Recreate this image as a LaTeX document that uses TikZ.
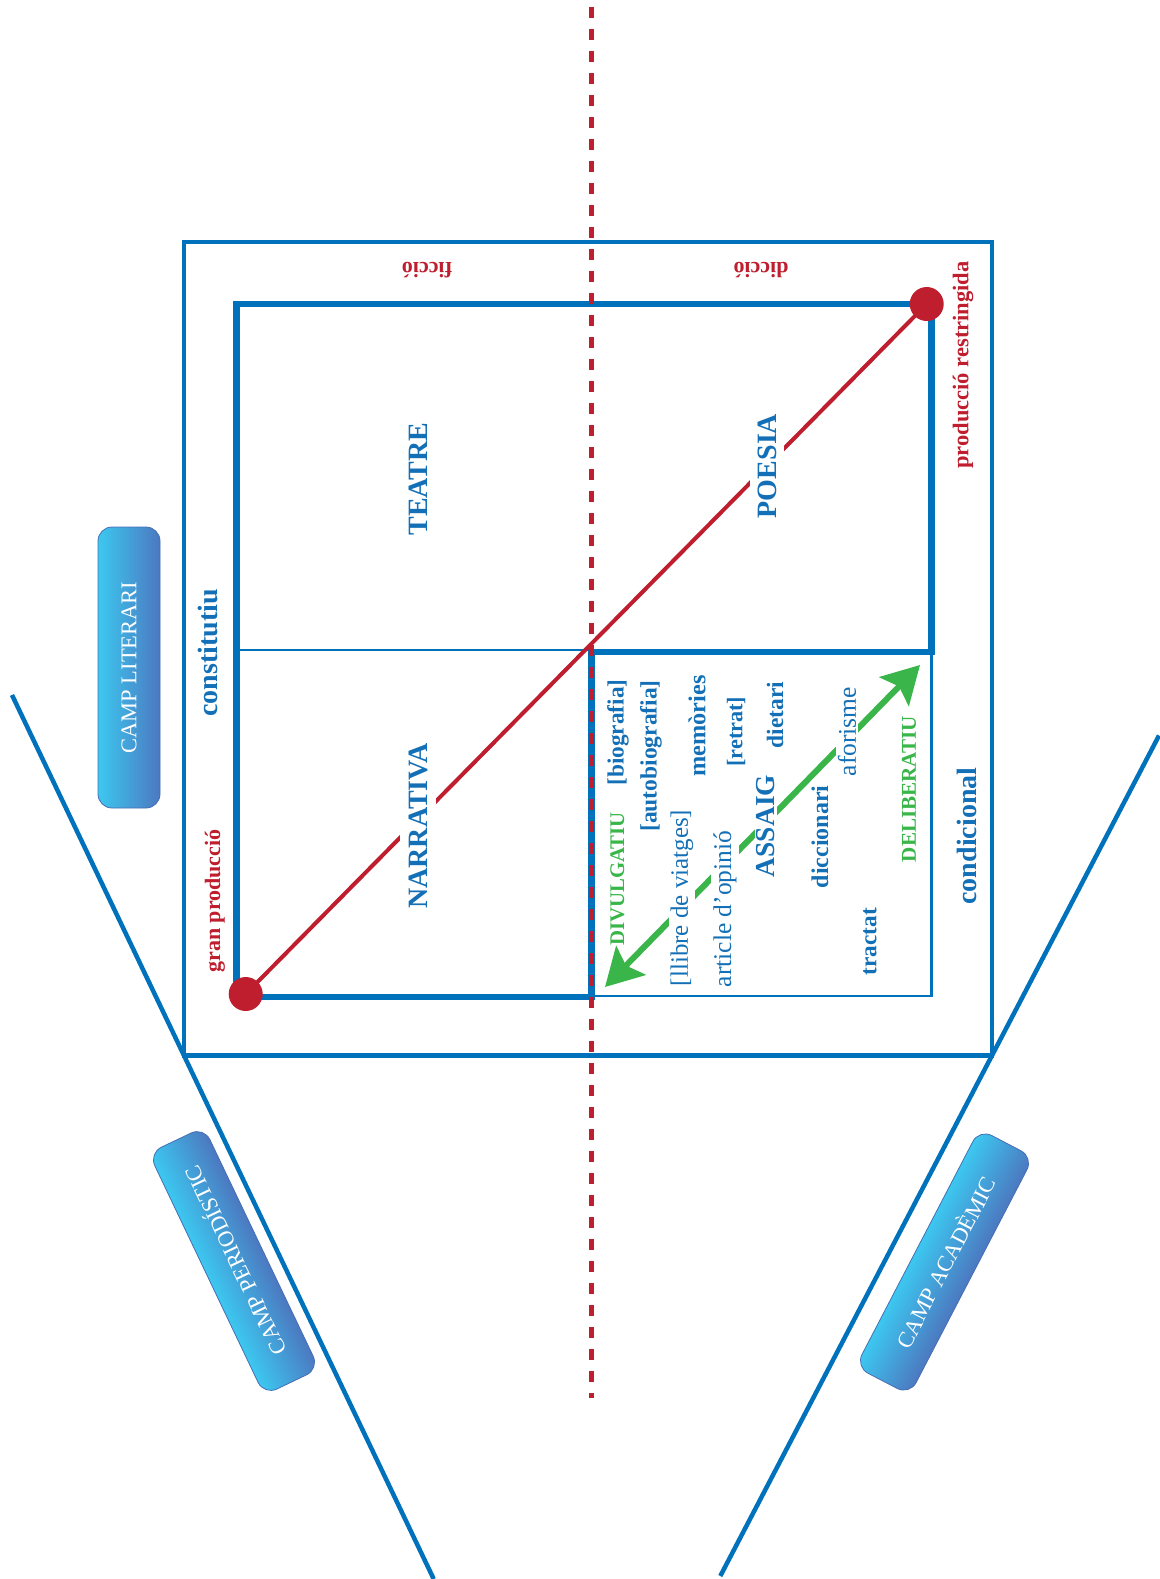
\documentclass[tikz,border=0pt]{standalone}
\usepackage{fontspec}
\setmainfont{Liberation Serif}
\usetikzlibrary{arrows.meta}
\definecolor{cblue}{RGB}{0,114,188}
\definecolor{tblue}{RGB}{20,112,182}
\definecolor{cred}{RGB}{190,30,45}
\definecolor{cgreen}{RGB}{57,181,74}
\definecolor{boxlight}{RGB}{60,200,240}
\definecolor{boxdark}{RGB}{76,120,192}
\definecolor{boxedge}{RGB}{70,110,180}
\newcommand\setfs[1]{\fontsize{#1}{#1}\selectfont}
\begin{document}
\begin{tikzpicture}[x=1pt,y=-1pt,
  thickblue/.style={draw=cblue, line width=6.5pt, line join=miter},
  thinblue/.style={draw=cblue, line width=2.5pt},
  outerblue/.style={draw=cblue, line width=4.5pt},
  redline/.style={draw=cred, line width=4pt},
  reddash/.style={draw=cred, line width=5pt, dash pattern=on 11pt off 11pt},
  garrow/.style={draw=cgreen, line width=6pt, {Stealth[length=37pt,width=41pt,inset=7pt]}-{Stealth[length=37pt,width=41pt,inset=7pt]}},
  reddot/.style={circle, fill=cred, minimum size=34pt, inner sep=0pt},
  btxt/.style={text=tblue, font=\bfseries\setfs{#1}, inner sep=0pt},
  rtxt/.style={text=tblue, font=\setfs{#1}, inner sep=0pt},
  redtxt/.style={text=cred, font=\bfseries\setfs{#1}, inner sep=0pt},
  gtxt/.style={text=cgreen, font=\bfseries\setfs{#1}, inner sep=0pt},
  campbox/.style={rounded corners=14pt, draw=boxedge, line width=0.8pt,
    top color=boxlight, bottom color=boxdark,
    text=white, font=\setfs{22.5},
    minimum width=268pt, minimum height=61pt, inner sep=0pt}
]
\useasboundingbox (0,0) rectangle (1159,1579);

% field lines
\coordinate (L1) at (12,695);
\coordinate (L2) at (433.7,1579);
\coordinate (R1) at (1159,735.5);
\coordinate (R2) at (720.3,1576);
\draw[outerblue] (L1) -- (L2);
\draw[outerblue] (R1) -- (R2);

% outer rectangle
\draw[outerblue] (184,242) rectangle (992,1055.5);

% thin lines
\draw[thinblue] (236.5,650) -- (591.5,650);
\draw[thinblue] (591.5,996) -- (931.5,996) -- (931.5,652);

% thick shape
\draw[thickblue] (236.5,304) -- (931.5,304) -- (931.5,652) -- (591.5,652) -- (591.5,997) -- (236.5,997) -- cycle;

% red diagonal
\coordinate (dA) at (245.7,994);
\coordinate (dB) at (926.7,304);
\draw[redline] (dA) -- (dB);

% green arrow
\coordinate (gA) at (605,987);
\coordinate (gB) at (920,665);
\draw[garrow] (gA) -- (gB);

% boxes
\begin{scope}[transform canvas={shift={(129,667.5)}, rotate=90}]
\node[campbox, minimum width=281pt, minimum height=62pt] (lit) at (0,0) {CAMP LITERARI};
\end{scope}
\begin{scope}[transform canvas={shift={(234,1261)}, rotate=115.5}]
\node[campbox] (per) at (0,0) {CAMP PERIODÍSTIC};
\end{scope}
\begin{scope}[transform canvas={shift={(944.5,1262)}, rotate=62.5}]
\node[campbox] (aca) at (0,0) {CAMP ACADÈMIC};
\end{scope}

% red labels
\node[redtxt=22, rotate=180] (fic) at (427,270) {ficció};
\node[redtxt=22, rotate=180] (dic) at (761,270) {dicció};
\node[redtxt=22.5, rotate=90] (pr) at (963,365) {producció restringida};
\node[redtxt=22, rotate=90] (gp) at (215,901) {gran producció};

% blue labels
\node[btxt=28, rotate=90] (cons) at (208,653) {constitutiu};
\node[btxt=28, rotate=90] (cond) at (967,836) {condicional};
\node[btxt=28, rotate=90] (tea) at (418,479) {TEATRE};
\node[btxt=28, rotate=90, fill=white, inner sep=8pt] (poe) at (767,466) {POESIA};
\node[btxt=28, rotate=90, fill=white, inner sep=9pt] (nar) at (418,826) {NARRATIVA};

% assaig region
\node[btxt=23.3, rotate=90] (bio) at (618,732.5) {[biografia]};
\node[btxt=23.5, rotate=90] (abio) at (651,756) {[autobiografia]};
\node[btxt=24.3, rotate=90] (mem) at (697,726) {memòries};
\node[btxt=22.3, rotate=90] (ret) at (736,731.7) {[retrat]};
\node[btxt=23.5, rotate=90] (die) at (775,715) {dietari};
\node[rtxt=25.5, rotate=90, fill=white, inner sep=2pt] (afo) at (847,731.7) {aforisme};
\node[rtxt=25, rotate=90, fill=white, inner sep=2pt] (lli) at (682,898) {[llibre de viatges]};
\node[rtxt=25.5, rotate=90, fill=white, inner sep=2pt] (art) at (725,909) {article d’opinió};
\node[btxt=27.4, rotate=90, fill=white, inner sep=2pt] (ass) at (766,826) {ASSAIG};
\node[btxt=24, rotate=90] (dicc) at (820,836.7) {diccionari};
\node[btxt=23.3, rotate=90] (tra) at (870,941.7) {tractat};
\node[gtxt=20.8, rotate=90] (div) at (617.3,879) {DIVULGATIU};
\node[gtxt=21.1, rotate=90] (del) at (909,789) {DELIBERATIU};

% red dashed axis
\coordinate (V1) at (591.7,7);
\coordinate (V2) at (591.7,1398);
\draw[reddash] (V1) -- (V2);

% dots
\node[reddot] (pA) at (dA) {};
\node[reddot] (pB) at (dB) {};
\end{tikzpicture}
\end{document}
